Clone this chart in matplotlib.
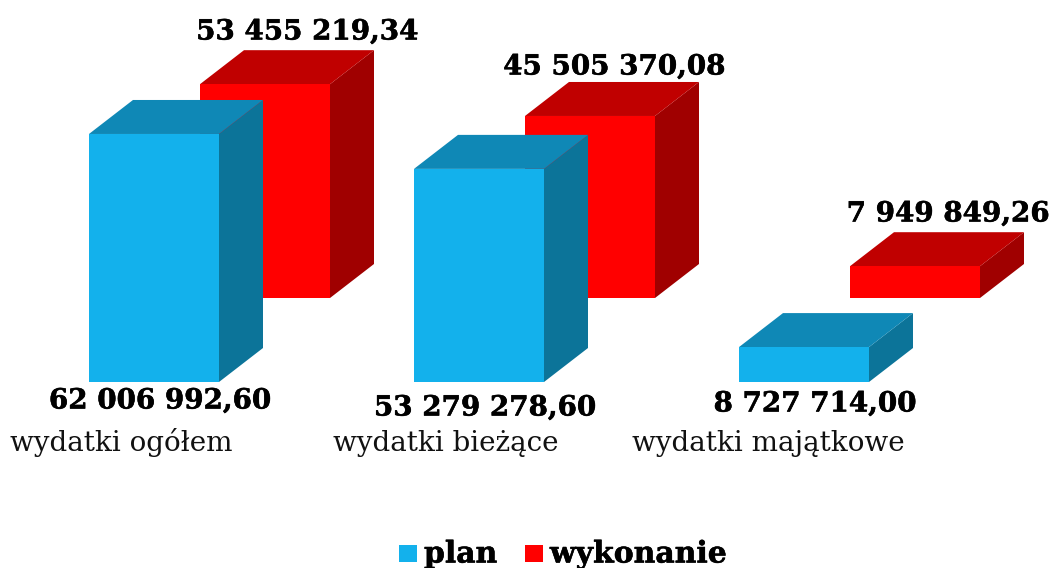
import matplotlib
matplotlib.use('Agg')
import matplotlib.pyplot as plt
import matplotlib.patheffects as pe

categories = ['wydatki ogółem', 'wydatki bieżące', 'wydatki majątkowe']
plan = [62006992.60, 53279278.60, 8727714.00]
wykonanie = [53455219.34, 45505370.08, 7949849.26]
plan_labels = ['62 006 992,60', '53 279 278,60', '8 727 714,00']
wykonanie_labels = ['53 455 219,34', '45 505 370,08', '7 949 849,26']

plt.rcParams['font.family'] = ['DejaVu Serif']

fig = plt.figure(figsize=(10.51, 5.68), dpi=100)
ax = fig.add_axes([0, 0, 1, 1])
ax.axis('off')

# 1 jednostka x = 1 piksel, y w zlotych (4 px na milion)
scale = 250000
ax.set_xlim(0, 1051)
ax.set_ylim((382 - 568) * scale, 382 * scale)

width = 130
dx = 44
dy = 34 * scale
group_x = [89, 414, 739]
back_dx = 111
back_dy = 84 * scale
heavy = [pe.withStroke(linewidth=0.4, foreground='black')]


def bar3d(x, base, val, front, top, side):
    y0 = base
    y1 = base + val
    ax.fill([x + width, x + width + dx, x + width + dx, x + width],
            [y0, y0 + dy, y1 + dy, y1], color=side, lw=0)
    ax.fill([x, x + dx, x + width + dx, x + width],
            [y1, y1 + dy, y1 + dy, y1], color=top, lw=0)
    ax.fill([x, x + width, x + width, x], [y0, y0, y1, y1], color=front, lw=0)


for i in range(3):
    bar3d(group_x[i] + back_dx, back_dy, wykonanie[i], '#FF0000', '#C00000', '#A00000')
for i in range(3):
    bar3d(group_x[i], 0, plan[i], '#13B1EC', '#0F88B6', '#0C7499')

bold = dict(fontsize=20, fontweight='bold', color='black', ha='center', va='center', path_effects=heavy)
wyk_x = [307, 614, 948]
wyk_y = [32, 67, 214]
plan_x = [160, 485, 815]
plan_y = [401, 408, 404]
for i in range(3):
    ax.text(wyk_x[i], (382 - wyk_y[i]) * scale, wykonanie_labels[i], **bold)
    ax.text(plan_x[i], (382 - plan_y[i]) * scale, plan_labels[i], **bold)

cat_x = [10, 333, 632]
for i in range(3):
    ax.text(cat_x[i], (382 - 451) * scale, categories[i], fontsize=20, color='#111111',
            ha='left', va='baseline')

# legenda
ax.fill([399, 417, 417, 399], [(382 - 545) * scale, (382 - 545) * scale, (382 - 562) * scale, (382 - 562) * scale],
        color='#13B1EC', lw=0)
ax.fill([525, 543, 543, 525], [(382 - 545) * scale, (382 - 545) * scale, (382 - 562) * scale, (382 - 562) * scale],
        color='#FF0000', lw=0)
ax.text(424, (382 - 554) * scale, 'plan', fontsize=21.5, fontweight='bold', ha='left', va='center', path_effects=heavy)
ax.text(550, (382 - 554) * scale, 'wykonanie', fontsize=21.5, fontweight='bold', ha='left', va='center', path_effects=heavy)

fig.savefig('out.png', dpi=100)
